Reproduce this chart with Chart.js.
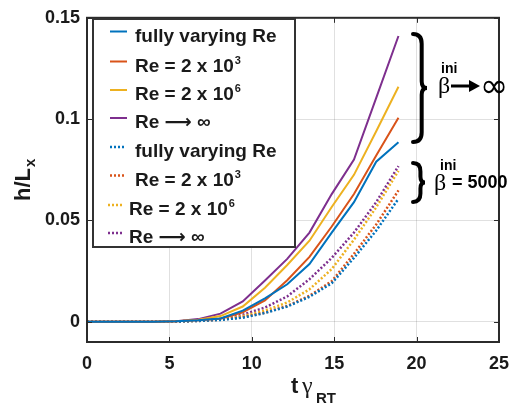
<!DOCTYPE html>
<html>
<head>
<meta charset="utf-8">
<script src="https://cdn.jsdelivr.net/npm/chart.js@4.4.1/dist/chart.umd.min.js"></script>
<style>
  html, body { margin: 0; padding: 0; background: #fff; }
</style>
</head>
<body>
<canvas id="chart" width="520" height="409"></canvas>
<script>
// time samples (t * gamma_RT)
const times = [0, 1.35, 2.7, 4.05, 5.4, 6.75, 8.1, 9.45, 10.8, 12.15, 13.5, 14.85, 16.2, 17.55, 18.9];

// beta_ini -> infinity (solid)
const fullyVaryingInf = [0, 0, 0, 0, 0.0002, 0.0007, 0.0016, 0.0055, 0.0115, 0.0185, 0.0285, 0.044, 0.059, 0.079, 0.0886];
const re2e3Inf        = [0, 0, 0, 0, 0.0002, 0.0007, 0.0015, 0.0047, 0.0105, 0.0205, 0.032, 0.047, 0.063, 0.082, 0.1007];
const re2e6Inf        = [0, 0, 0, 0, 0.0003, 0.0010, 0.0028, 0.0075, 0.0168, 0.028, 0.040, 0.0566, 0.0725, 0.094, 0.116];
const reInfInf        = [0, 0, 0, 0, 0.0003, 0.0013, 0.0040, 0.0100, 0.0204, 0.031, 0.044, 0.063, 0.080, 0.1105, 0.141];

// beta_ini = 5000 (dotted)
const fullyVarying5000 = [0, 0, 0, 0, 0.0001, 0.0004, 0.0009, 0.0020, 0.0043, 0.0075, 0.0123, 0.019, 0.0315, 0.045, 0.0607];
const re2e3_5000       = [0, 0, 0, 0, 0.0001, 0.0004, 0.0010, 0.0022, 0.0045, 0.0078, 0.0128, 0.020, 0.0335, 0.048, 0.0648];
const re2e6_5000       = [0, 0, 0, 0, 0.0001, 0.0005, 0.0012, 0.0028, 0.0055, 0.0095, 0.016, 0.026, 0.0405, 0.0565, 0.0745];
const reInf5000        = [0, 0, 0, 0, 0.0002, 0.0006, 0.0015, 0.0035, 0.0070, 0.0125, 0.021, 0.0315, 0.044, 0.059, 0.0768];

const seriesLabels = ['fully varying Re', 'Re = 2 x 10^3', 'Re = 2 x 10^6', 'Re \u27F6 \u221E'];
const seriesColors = ['#0072BD', '#D95319', '#EDB120', '#7E2F8E'];

const xTicks = [0, 5, 10, 15, 20, 25];
const yTicks = [0, 0.05, 0.1, 0.15];
const yTickLabels = ['0', '0.05', '0.1', '0.15'];

const solidSeries = [fullyVaryingInf, re2e3Inf, re2e6Inf, reInfInf];
const dottedSeries = [fullyVarying5000, re2e3_5000, re2e6_5000, reInf5000];

const toPoints = vals => vals.map((v, i) => ({ x: times[i], y: v }));

const datasets = [];
solidSeries.forEach((vals, i) => datasets.push({
  label: seriesLabels[i], data: toPoints(vals),
  borderColor: seriesColors[i], borderWidth: 2, dotted: false
}));
dottedSeries.forEach((vals, i) => datasets.push({
  label: seriesLabels[i], data: toPoints(vals),
  borderColor: seriesColors[i], borderWidth: 2.5, borderDash: [2, 2], dotted: true
}));

const SANS = '"Liberation Sans", Arial, sans-serif';
const SERIF = '"Liberation Serif", "DejaVu Serif", serif';
const INK = '#1a1a1a';

// text with an optional trailing superscript marked by '^'
function drawLabel(ctx, str, x, y, size) {
  const [main, sup] = str.split('^');
  ctx.font = `bold ${size}px ${SANS}, "DejaVu Sans"`;
  ctx.fillText(main, x, y);
  if (sup) {
    const w = ctx.measureText(main).width;
    ctx.font = `bold ${Math.round(size * 0.6)}px ${SANS}`;
    ctx.fillText(sup, x + w + 1, y - size * 0.42);
  }
}

function drawBrace(ctx, x, yTop, yBot, w) {
  const xm = x + w * 0.62, ym = (yTop + yBot) / 2, r = w * 0.7;
  ctx.beginPath();
  ctx.moveTo(x, yTop);
  ctx.quadraticCurveTo(xm, yTop, xm, yTop + r);
  ctx.lineTo(xm, ym - r * 0.7);
  ctx.quadraticCurveTo(xm, ym, x + w, ym);
  ctx.quadraticCurveTo(xm, ym, xm, ym + r * 0.7);
  ctx.lineTo(xm, yBot - r);
  ctx.quadraticCurveTo(xm, yBot, x, yBot);
  ctx.stroke();
}

function drawArrow(ctx, x0, x1, y) {
  ctx.beginPath();
  ctx.moveTo(x0, y);
  ctx.lineTo(x1 - 9, y);
  ctx.lineWidth = 3;
  ctx.lineCap = 'butt';
  ctx.stroke();
  ctx.beginPath();
  ctx.moveTo(x1 - 11, y - 6);
  ctx.lineTo(x1, y);
  ctx.lineTo(x1 - 11, y + 6);
  ctx.closePath();
  ctx.fill();
}

const decor = {
  id: 'decor',
  afterDraw(chart) {
    const { ctx, chartArea: a, scales: { x, y } } = chart;
    ctx.save();

    // axes box with inward ticks
    ctx.strokeStyle = '#2b2b2b';
    ctx.lineWidth = 1;
    ctx.beginPath();
    xTicks.forEach(v => {
      const px = Math.round(x.getPixelForValue(v)) + 0.5;
      ctx.moveTo(px, a.bottom); ctx.lineTo(px, a.bottom - 5);
      ctx.moveTo(px, a.top); ctx.lineTo(px, a.top + 5);
    });
    yTicks.forEach(v => {
      const py = Math.round(y.getPixelForValue(v)) + 0.5;
      ctx.moveTo(a.left, py); ctx.lineTo(a.left + 5, py);
      ctx.moveTo(a.right, py); ctx.lineTo(a.right - 5, py);
    });
    ctx.stroke();
    ctx.lineWidth = 2;
    ctx.strokeRect(a.left, a.top, a.right - a.left, a.bottom - a.top);

    // legend
    const lx = 93, ly = 19, lw = 202, lh = 228;
    ctx.fillStyle = '#fff';
    ctx.fillRect(lx, ly, lw, lh);
    ctx.strokeStyle = '#333';
    ctx.lineWidth = 2;
    ctx.strokeRect(lx, ly, lw, lh);
    const baselines = [41.5, 71.5, 100, 128, 157, 185.5, 215, 243];
    ctx.fillStyle = INK;
    ctx.textAlign = 'left';
    ctx.textBaseline = 'alphabetic';
    chart.data.datasets.forEach((ds, i) => {
      const by = baselines[i];
      const tx = i >= 6 ? 129 : 135;
      ctx.save();
      ctx.strokeStyle = ds.borderColor;
      ctx.lineWidth = ds.borderWidth;
      if (ds.dotted) ctx.setLineDash(ds.borderDash);
      ctx.beginPath();
      ctx.moveTo(i >= 6 ? 108 : 110, by - 10);
      ctx.lineTo(ds.dotted ? 124 : 127, by - 10);
      ctx.stroke();
      ctx.restore();
      drawLabel(ctx, ds.label, tx, by, 19);
    });

    // braces and beta_ini annotations
    ctx.strokeStyle = '#000';
    ctx.lineWidth = 4;
    ctx.lineCap = 'round';
    drawBrace(ctx, 413, 34, 142, 14);
    drawBrace(ctx, 413, 163, 202, 12);
    ctx.fillStyle = '#000';
    ctx.font = `bold 14px ${SANS}`;
    ctx.fillText('ini', 441, 73);
    ctx.fillText('ini', 440, 170);
    ctx.font = `24px ${SERIF}`;
    ctx.fillText('\u03B2', 438, 93);
    ctx.fillText('\u03B2', 434, 190);
    drawArrow(ctx, 451, 480, 86);
    ctx.font = `34px "DejaVu Sans"`;
    ctx.fillText('\u221E', 480, 97);
    ctx.font = `bold 18px ${SANS}`;
    ctx.fillText('= 5000', 452, 188);

    // axis titles
    ctx.fillStyle = INK;
    ctx.font = `bold 22px ${SANS}`;
    ctx.fillText('t', 291, 393);
    ctx.font = `24px ${SERIF}`;
    ctx.fillText('\u03B3', 302, 393);
    ctx.font = `bold 15px ${SANS}`;
    ctx.fillText('RT', 316, 403);

    ctx.translate(30, 201);
    ctx.rotate(-Math.PI / 2);
    ctx.font = `bold 22px ${SANS}`;
    ctx.fillText('h/L', 0, 0);
    const hw = ctx.measureText('h/L').width;
    ctx.font = `bold 15px ${SANS}`;
    ctx.fillText('x', hw + 1, 5);

    ctx.restore();
  }
};

new Chart(document.getElementById('chart').getContext('2d'), {
  type: 'line',
  data: { datasets },
  options: {
    responsive: false,
    animation: false,
    devicePixelRatio: 1,
    layout: { padding: { left: 0, top: 15, right: 10, bottom: 0 } },
    elements: { point: { radius: 0 }, line: { tension: 0 } },
    plugins: { legend: { display: false }, tooltip: { enabled: false } },
    scales: {
      x: {
        type: 'linear', min: 0, max: 25,
        afterBuildTicks: s => { s.ticks = xTicks.map(v => ({ value: v })); },
        afterFit: s => { s.height = 67; },
        border: { display: false },
        grid: { color: 'rgba(0,0,0,0.12)', drawTicks: false },
        ticks: { padding: 11, color: INK, font: { family: SANS, size: 18, weight: 'bold' } }
      },
      y: {
        type: 'linear', min: -0.01, max: 0.15,
        afterBuildTicks: s => { s.ticks = yTicks.map(v => ({ value: v })); },
        afterFit: s => { s.width = 87; },
        border: { display: false },
        grid: { color: 'rgba(0,0,0,0.12)', drawTicks: false },
        ticks: {
          padding: 7, color: INK, font: { family: SANS, size: 18, weight: 'bold' },
          callback: (v, i) => yTickLabels[i]
        }
      }
    }
  },
  plugins: [decor]
});
</script>
</body>
</html>
